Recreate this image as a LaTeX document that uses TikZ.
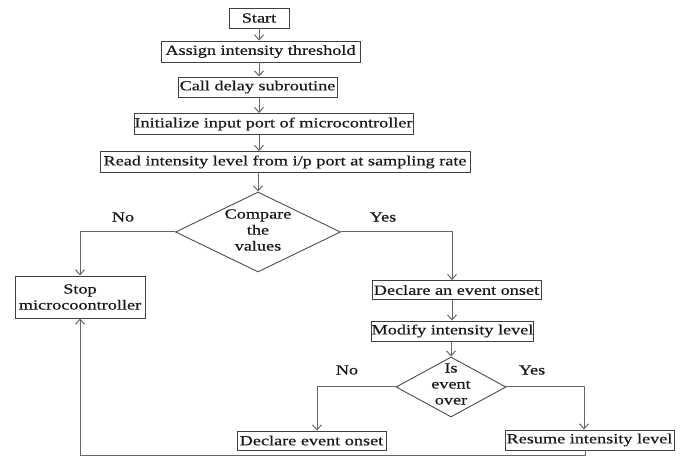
\documentclass[tikz,border=0pt]{standalone}
\usepackage{fontspec}
\setmainfont{Liberation Serif}[FakeStretch=1.3,FakeBold=0.5]
\usetikzlibrary{arrows.meta,shapes.geometric}
\tikzset{
  box/.style={draw=black!75, line width=0.9pt, inner sep=0pt, minimum height=20pt,
    font=\fontsize{14}{16}\selectfont, text=black!90, align=center},
  dia/.style={draw=black!70, line width=0.9pt, shape=diamond, inner sep=0pt},
  lbl/.style={font=\fontsize{14}{16}\selectfont, align=center, inner sep=0pt, text=black!90},
  conn/.style={draw=black!60, line width=1pt, -{Straight Barb[length=5pt,width=9pt]}},
}
\begin{document}
\begin{tikzpicture}[x=1pt,y=-1pt]
\useasboundingbox (0,0) rectangle (681,457);
% boxes
\node[box, minimum width=60pt] (start) at (259,18) {Start};
\node[box, minimum width=199pt, minimum height=21pt] (assign) at (260.5,51.5) {Assign intensity threshold};
\node[box, minimum width=159pt] (delay) at (257.5,87) {Call delay subroutine};
\node[box, minimum width=279pt, minimum height=21pt] (init) at (273.5,124) {Initialize input port of microcontroller};
\node[box, minimum width=370pt, minimum height=21pt] (read) at (285,162) {Read intensity level from i/p port at sampling rate};
\node[dia, minimum width=165pt, minimum height=80pt] (cmp) at (258,232) {};
\node[lbl] (cmpt) at (258,230) {Compare\\the\\values};
\node[box, minimum width=130pt, minimum height=42pt] (stop) at (80,297) {Stop\\microcoontroller};
\node[box, minimum width=169pt, minimum height=19pt] (onset1) at (456.5,290) {Declare an event onset};
\node[box, minimum width=161pt] (modify) at (452.5,331) {Modify intensity level};
\node[dia, minimum width=110pt, minimum height=60pt] (over) at (451,387) {};
\node[lbl] (overt) at (451,384) {Is\\event\\over};
\node[box, minimum width=149pt, minimum height=19pt] (onset2) at (311.5,440.5) {Declare event onset};
\node[box, minimum width=169pt] (resume) at (589.5,440) {Resume intensity level};
% labels
\node[lbl] (no1) at (123,217) {No};
\node[lbl] (yes1) at (383,217) {Yes};
\node[lbl] (no2) at (347,370) {No};
\node[lbl] (yes2) at (532,370) {Yes};
% helper columns
\coordinate (rx) at (452,0);
\coordinate (lx) at (317,0);
\coordinate (rx2) at (584,0);
\coordinate (fb) at (585,455);
% connectors
\draw[conn] (start.south) -- (assign.north -| start);
\draw[conn] (assign.south -| start) -- (delay.north -| start);
\draw[conn] (delay.south -| start) -- (init.north -| start);
\draw[conn] (init.south -| start) -- (read.north -| start);
\draw[conn] (read.south -| cmp) -- (cmp.north);
\draw[conn] (cmp.west) -| (stop.north);
\draw[conn] (cmp.east) -| (onset1.north -| rx);
\draw[conn] (onset1.south -| rx) -- (modify.north -| rx);
\draw[conn] (modify.south -| over) -- (over.north);
\draw[conn] (over.west) -| (onset2.north -| lx);
\draw[conn] (over.east) -| (resume.north -| rx2);
\draw[conn] (resume.south -| fb) -- (fb) -- (fb -| stop.south) -- (stop.south);
\end{tikzpicture}
\end{document}
